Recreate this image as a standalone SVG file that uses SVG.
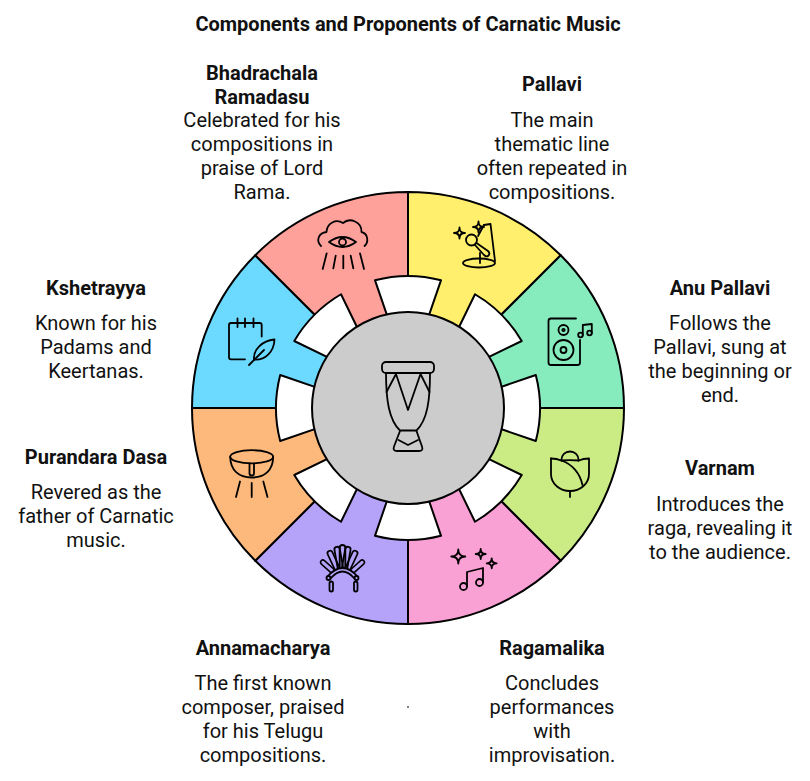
<svg xmlns="http://www.w3.org/2000/svg" width="810" height="781" viewBox="0 0 810 781">
<style>
.t{font-family:Roboto,"Liberation Sans",sans-serif;fill:#111;text-anchor:middle}
.title{font-size:20px;font-weight:700}
.h{font-size:20px;font-weight:700}
.b{font-size:20px;font-weight:400}
.w{stroke:#000;stroke-width:2;stroke-linejoin:round}
.ic{fill:none;stroke:#000;stroke-width:1.8;stroke-linecap:round;stroke-linejoin:round}
</style>
<defs>
<path id="sec" d="M0,0 L0,-216 A216,216 0 0 1 152.735,-152.735 Z"/>
<path id="tab" d="M-33.05,-127.8 A132,132 0 0 1 33.05,-127.8 L17.67,-83.14 L-17.67,-83.14 Z"/>
<path id="fea" d="M-2.7,-12 L-2.7,-31 A2.7,2.7 0 0 1 2.7,-31 L2.7,-12"/>
</defs>
<rect width="810" height="781" fill="#fff"/>
<text class="t title" x="408" y="31">Components and Proponents of Carnatic Music</text>

<g id="pallavi">
<use href="#sec" transform="translate(408,408) rotate(0)" fill="#FFEF6C" class="w"/>
<g class="ic">
<path d="M459.5,227.5 Q459.5,233 465,233 Q459.5,233 459.5,238.5 Q459.5,233 454,233 Q459.5,233 459.5,227.5 Z"/>
<path d="M478.5,221.5 Q478.5,227 484,227 Q478.5,227 478.5,232.5 Q478.5,227 473,227 Q478.5,227 478.5,221.5 Z"/>
<path d="M484,225 L490.5,224 L495,261"/>
<path d="M484,225 L478,236"/>
<ellipse cx="479" cy="263" rx="16" ry="4.5"/>
<circle cx="471.5" cy="240" r="5.5"/>
<path d="M475,245 L484,255 Q486.5,257.5 488.5,255.5 Q490.5,253.5 488,251 L476.5,243"/>
<path d="M480,253 L480,263"/>
</g>
<text class="t h" x="552" y="91">Pallavi</text>
<text class="t b" x="552" y="127">The main</text>
<text class="t b" x="552" y="151">thematic line</text>
<text class="t b" x="552" y="175">often repeated in</text>
<text class="t b" x="552" y="199">compositions.</text>
</g>

<g id="anu-pallavi">
<use href="#sec" transform="translate(408,408) rotate(45)" fill="#86EBBD" class="w"/>
<g class="ic">
<path d="M576,318.5 L551,318.5 Q548.5,318.5 548.5,321 L548.5,362.5 Q548.5,365 551,365 L577.5,365 Q580,365 580,362.5 L580,340"/>
<circle cx="563.5" cy="330" r="5"/>
<circle cx="563.5" cy="330" r="1.2"/>
<circle cx="563.5" cy="350" r="10"/>
<circle cx="563.5" cy="350" r="3"/>
<circle cx="580.5" cy="335" r="2.3"/>
<circle cx="589.5" cy="333" r="2.3"/>
<path d="M582.8,335 L582.8,325 L591.8,324 L591.8,333"/>
</g>
<text class="t h" x="720" y="295">Anu Pallavi</text>
<text class="t b" x="720" y="330">Follows the</text>
<text class="t b" x="720" y="354">Pallavi, sung at</text>
<text class="t b" x="720" y="378">the beginning or</text>
<text class="t b" x="720" y="402">end.</text>
</g>

<g id="varnam">
<use href="#sec" transform="translate(408,408) rotate(90)" fill="#CBEB85" class="w"/>
<g class="ic">
<path d="M551,458.5 L551,474 C551,484 560,491 570,491 C580,491 589,484 589,474 L589,458.5 C585,458.5 581.5,459.3 578.7,460.5"/>
<path d="M561.3,460.5 C561.3,455 565.3,451.5 570,451.5 C574.7,451.5 578.7,455 578.7,460.5"/>
<path d="M551,458.5 C555,458.5 558.5,459.3 561.3,460.5 C572,464 580,473 582.5,485"/>
<path d="M561.3,460.5 C566,460 573,460 578.7,460.5"/>
<path d="M570,491 L570,497"/>
</g>
<text class="t h" x="720" y="475">Varnam</text>
<text class="t b" x="720" y="511">Introduces the</text>
<text class="t b" x="720" y="535">raga, revealing it</text>
<text class="t b" x="720" y="559">to the audience.</text>
</g>

<g id="ragamalika">
<use href="#sec" transform="translate(408,408) rotate(135)" fill="#F9A0D4" class="w"/>
<g class="ic">
<path d="M458.3,549.5 Q458.3,556.5 465.3,556.5 Q458.3,556.5 458.3,563.5 Q458.3,556.5 451.3,556.5 Q458.3,556.5 458.3,549.5 Z"/>
<path d="M480.7,549 Q480.7,554 485.7,554 Q480.7,554 480.7,559 Q480.7,554 475.7,554 Q480.7,554 480.7,549 Z"/>
<path d="M491.7,558.3 Q491.7,563.3 496.7,563.3 Q491.7,563.3 491.7,568.3 Q491.7,563.3 486.7,563.3 Q491.7,563.3 491.7,558.3 Z"/>
<circle cx="463.5" cy="586.5" r="3.5"/>
<circle cx="479.5" cy="582.5" r="3.5"/>
<path d="M467,586 L467,572 L483,568 L483,582"/>
</g>
<text class="t h" x="552" y="655">Ragamalika</text>
<text class="t b" x="552" y="690">Concludes</text>
<text class="t b" x="552" y="714">performances</text>
<text class="t b" x="552" y="738">with</text>
<text class="t b" x="552" y="762">improvisation.</text>
</g>

<g id="annamacharya">
<use href="#sec" transform="translate(408,408) rotate(180)" fill="#B5A3FA" class="w"/>
<g class="ic" stroke-width="1.7">
<use href="#fea" transform="translate(342.5,580) rotate(-48) scale(0.85)"/>
<use href="#fea" transform="translate(342.5,580) rotate(48) scale(0.85)"/>
<use href="#fea" transform="translate(342.5,580) rotate(-25) scale(0.95)"/>
<use href="#fea" transform="translate(342.5,580) rotate(25) scale(0.95)"/>
<use href="#fea" transform="translate(342.5,580) rotate(-10)"/>
<use href="#fea" transform="translate(342.5,580) rotate(10)"/>
<use href="#fea" transform="translate(342.5,580) rotate(0) scale(1.04)"/>
<path d="M327,577 Q342.5,559 358,577 L354,578 Q342.5,565 331,578 Z" fill="#B5A3FA"/>
<circle cx="328.5" cy="578" r="2" fill="#B5A3FA"/>
<circle cx="356.5" cy="578" r="2" fill="#B5A3FA"/>
<rect x="329.5" y="581.5" width="3.5" height="10" rx="1.75"/>
<rect x="354" y="581.5" width="3.5" height="10" rx="1.75"/>
</g>
<text class="t h" x="263" y="655">Annamacharya</text>
<text class="t b" x="263" y="690">The first known</text>
<text class="t b" x="263" y="714">composer, praised</text>
<text class="t b" x="263" y="738">for his Telugu</text>
<text class="t b" x="263" y="762">compositions.</text>
</g>

<g id="purandara-dasa">
<use href="#sec" transform="translate(408,408) rotate(225)" fill="#FDB97C" class="w"/>
<g class="ic">
<ellipse cx="251.7" cy="456.8" rx="21.5" ry="6.6"/>
<path d="M230.2,457 C230.5,470 238.5,477.5 251.7,477.5 C265,477.5 273,470 273.2,457"/>
<path d="M249.5,463.5 L249.5,473.5 Q249.5,475.5 251.7,475.5 Q254,475.5 254,473.5 L254,463.5"/>
<path d="M240,481.5 L236,497 M251.7,483 L251.7,497 M263.3,481.5 L267.5,497"/>
</g>
<text class="t h" x="96" y="464">Purandara Dasa</text>
<text class="t b" x="96" y="499">Revered as the</text>
<text class="t b" x="96" y="523">father of Carnatic</text>
<text class="t b" x="96" y="547">music.</text>
</g>

<g id="kshetrayya">
<use href="#sec" transform="translate(408,408) rotate(270)" fill="#6CD9FF" class="w"/>
<g class="ic">
<path d="M261.7,336.5 L261.7,325 Q261.7,323 259.7,323 L231,323 Q229,323 229,325 L229,357.3 Q229,359.3 231,359.3 L245,359.3"/>
<path d="M237.5,318.5 L237.5,327 M245,318.5 L245,327 M253.5,318.5 L253.5,327"/>
<path d="M254,359.5 C253,350 262,340.5 274.5,339.5 C274,352 265,360.5 254,359.5 Z"/>
<path d="M249,365 L264,350"/>
</g>
<text class="t h" x="96" y="295">Kshetrayya</text>
<text class="t b" x="96" y="330">Known for his</text>
<text class="t b" x="96" y="354">Padams and</text>
<text class="t b" x="96" y="378">Keertanas.</text>
</g>

<g id="bhadrachala-ramadasu">
<use href="#sec" transform="translate(408,408) rotate(315)" fill="#FFA19B" class="w"/>
<g class="ic">
<path d="M321,246 C316,241 318,233 326.5,232 C327,223 336,218.5 343,223 C350,217 362,222 361.5,232 C368,233.5 369,242 364.5,246"/>
<path d="M329,242 Q342.5,232 356,242 Q342.5,252 329,242 Z"/>
<circle cx="342.5" cy="242" r="3.5"/>
<path d="M326.7,253.3 L322.7,269 M335.7,255.7 L333.3,268.3 M343.3,255.7 L343.3,268.3 M350.7,255.7 L353.3,268.3 M360,253.3 L364,269"/>
</g>
<text class="t h" x="262" y="80">Bhadrachala</text>
<text class="t h" x="262" y="104">Ramadasu</text>
<text class="t b" x="262" y="127">Celebrated for his</text>
<text class="t b" x="262" y="151">compositions in</text>
<text class="t b" x="262" y="175">praise of Lord</text>
<text class="t b" x="262" y="199">Rama.</text>
</g>

<g id="hub">
<g fill="#fff" class="w">
<use href="#tab" transform="translate(408,408) rotate(0)"/>
<use href="#tab" transform="translate(408,408) rotate(45)"/>
<use href="#tab" transform="translate(408,408) rotate(90)"/>
<use href="#tab" transform="translate(408,408) rotate(135)"/>
<use href="#tab" transform="translate(408,408) rotate(180)"/>
<use href="#tab" transform="translate(408,408) rotate(225)"/>
<use href="#tab" transform="translate(408,408) rotate(270)"/>
<use href="#tab" transform="translate(408,408) rotate(315)"/>
</g>
<circle cx="408" cy="408" r="96" fill="#CCCCCC" class="w"/>
<g class="ic" stroke-width="2">
<rect x="382" y="362" width="52" height="11" rx="4"/>
<path d="M386,373 C386,400 389,420 400,430.5 L416.5,430.5 C427.5,420 430,400 430,373"/>
<path d="M386.5,392 L396,374 L408,410 L420.5,374 L429.5,392"/>
<path d="M400,431 L394,446.5 Q392.5,451 397,451 L419,451 Q423.5,451 422,446.5 L416.5,431"/>
<path d="M398.5,440 L408,445 L418,440"/>
</g>
</g>
<circle cx="408" cy="707" r="1" fill="#555"/>
</svg>
